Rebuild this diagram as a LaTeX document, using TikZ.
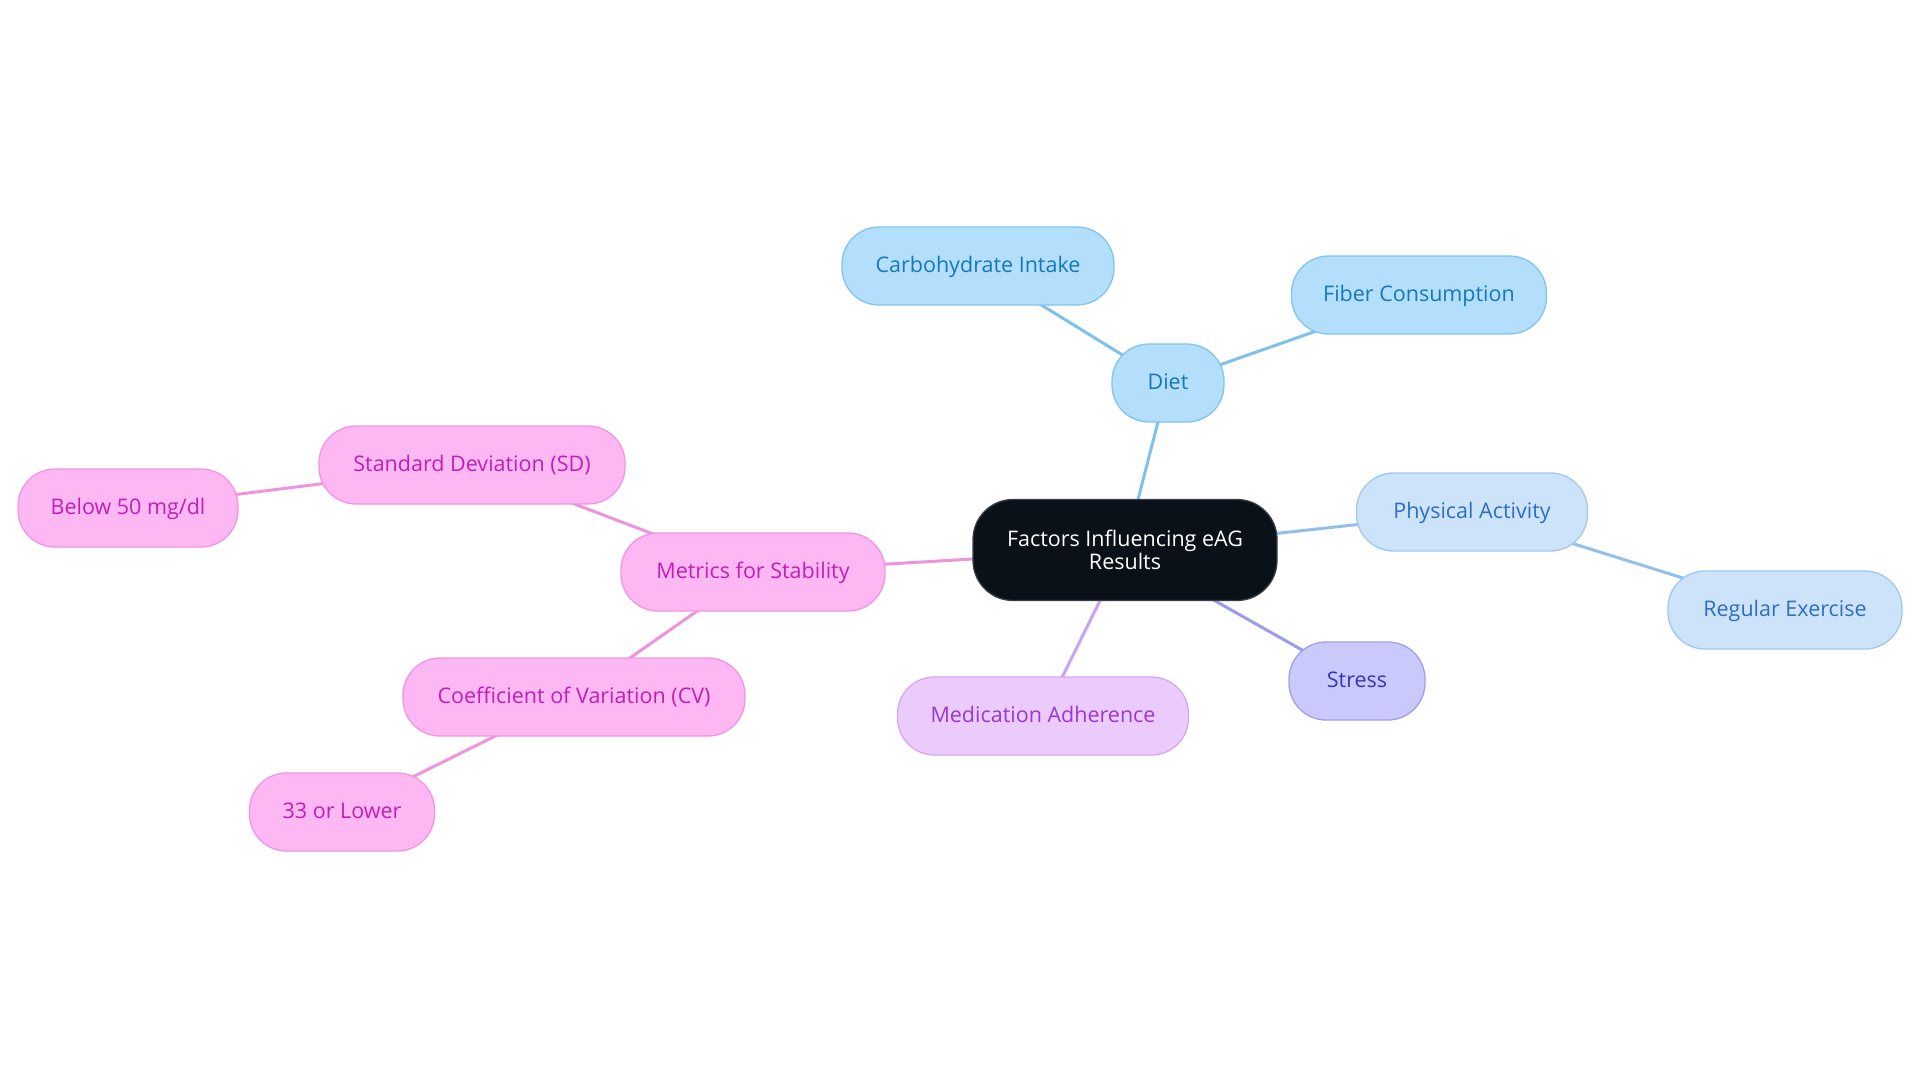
\documentclass[tikz,border=0pt]{standalone}
\usepackage{fontspec}
\setmainfont{Open Sans}
\pgfdeclarelayer{edgelayer}
\pgfsetlayers{edgelayer,main}
\begin{document}
\begin{tikzpicture}[x=1pt,y=-1pt,
  base/.style={draw, line width=1.3pt, rounded corners=37pt, minimum height=78pt, inner xsep=0pt, align=center, font=\fontsize{21.5}{23.5}\selectfont},
  single/.style={text height=16pt, text depth=3pt},
  blueA/.style={base, single, fill=nodeBlueF, draw=nodeBlueD, text=nodeBlueT},
  blueB/.style={base, single, fill=nodeLBF, draw=nodeLBD, text=nodeLBT},
  violet/.style={base, single, fill=nodeVF, draw=nodeVD, text=nodeVT},
  purple/.style={base, single, fill=nodePF, draw=nodePD, text=nodePT},
  pink/.style={base, single, fill=nodeKF, draw=nodeKD, text=nodeKT},
  centre/.style={base, fill=nodeCF, draw=nodeCD, text=white, rounded corners=40pt},
  edge/.style={line width=3pt}
]
\definecolor{nodeBlueF}{HTML}{B3DEFC}
\definecolor{nodeBlueD}{HTML}{82C4EE}
\definecolor{nodeBlueT}{HTML}{1478BC}
\definecolor{nodeLBF}{HTML}{CDE3FA}
\definecolor{nodeLBD}{HTML}{A0C8EE}
\definecolor{nodeLBT}{HTML}{2D6EC4}
\definecolor{nodeVF}{HTML}{C9C9FB}
\definecolor{nodeVD}{HTML}{A0A0EC}
\definecolor{nodeVT}{HTML}{3535B8}
\definecolor{nodePF}{HTML}{EBCBFC}
\definecolor{nodePD}{HTML}{D6A6F2}
\definecolor{nodePT}{HTML}{9A38D0}
\definecolor{nodeKF}{HTML}{FDB7F3}
\definecolor{nodeKD}{HTML}{F195E2}
\definecolor{nodeKT}{HTML}{C21FB4}
\definecolor{nodeCF}{HTML}{0B1118}
\definecolor{nodeCD}{HTML}{3A3F45}
\definecolor{edgeBlue}{HTML}{7EC2EA}
\definecolor{edgeLB}{HTML}{92BFEC}
\definecolor{edgeV}{HTML}{9C9CE8}
\definecolor{edgeP}{HTML}{CBA2EE}
\definecolor{edgeK}{HTML}{EE94DC}

\useasboundingbox (0,0) rectangle (1920,1083);

\node[centre, minimum width=304pt, minimum height=101pt] (root) at (1125,550) {Factors Influencing eAG\\Results};

\node[blueA, minimum width=112pt] (diet) at (1168,383) {Diet};
\node[blueA, minimum width=272pt] (carb) at (978,266) {Carbohydrate Intake};
\node[blueA, minimum width=255pt] (fiber) at (1419,295) {Fiber Consumption};

\node[blueB, minimum width=231pt] (phys) at (1472,512) {Physical Activity};
\node[blueB, minimum width=234pt] (exer) at (1785,610) {Regular Exercise};

\node[violet, minimum width=136pt] (stress) at (1357,681) {Stress};
\node[purple, minimum width=291pt] (med) at (1043,716) {Medication Adherence};

\node[pink, minimum width=264pt] (metrics) at (753,572) {Metrics for Stability};
\node[pink, minimum width=306pt] (sd) at (472,465) {Standard Deviation (SD)};
\node[pink, minimum width=220pt] (below) at (128,508) {Below 50 mg/dl};
\node[pink, minimum width=342pt] (cv) at (574,697) {Coefficient of Variation (CV)};
\node[pink, minimum width=185pt] (low) at (342,812) {33 or Lower};

\begin{pgfonlayer}{edgelayer}
\draw[edge, edgeBlue] (root.center) -- (diet.center);
\draw[edge, edgeBlue] (diet.center) -- (carb.center);
\draw[edge, edgeBlue] (diet.center) -- (fiber.center);
\draw[edge, edgeLB] (root.center) -- (phys.center);
\draw[edge, edgeLB] (phys.center) -- (exer.center);
\draw[edge, edgeV] (root.center) -- (stress.center);
\draw[edge, edgeP] (root.center) -- (med.center);
\draw[edge, edgeK] (root.center) -- (metrics.center);
\draw[edge, edgeK] (metrics.center) -- (sd.center);
\draw[edge, edgeK] (sd.center) -- (below.center);
\draw[edge, edgeK] (metrics.center) -- (cv.center);
\draw[edge, edgeK] (cv.center) -- (low.center);
\end{pgfonlayer}
\end{tikzpicture}
\end{document}
